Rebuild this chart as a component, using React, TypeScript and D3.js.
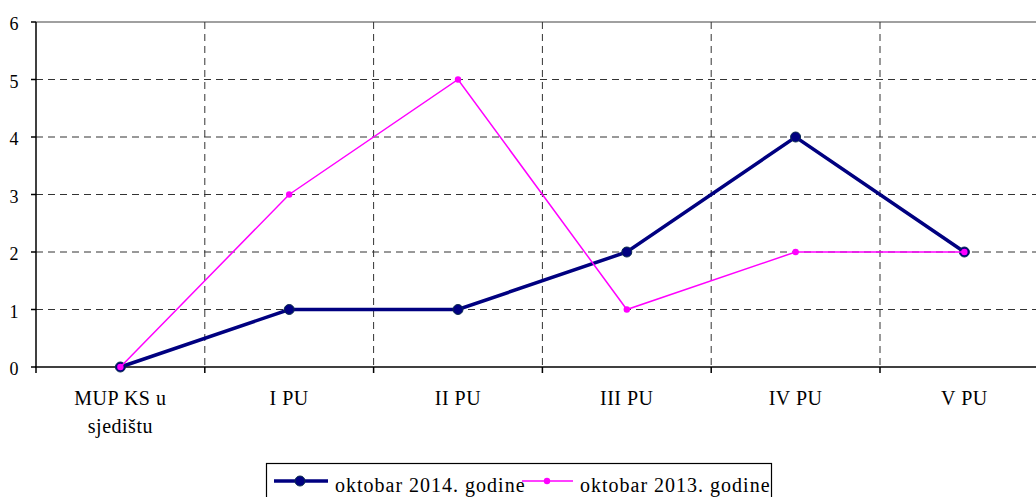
import * as d3 from "d3";

const categories = ["MUP KS u|sjedištu", "I PU", "II PU", "III PU", "IV PU", "V PU"];
const oct2014 = [0, 1, 1, 2, 4, 2];
const oct2013 = [0, 3, 5, 1, 2, 2];
const yTicks = [0, 1, 2, 3, 4, 5, 6];
const seriesNames = ["oktobar 2014. godine", "oktobar 2013. godine"];

const W = 1036;
const H = 497;
const left = 36;
const top = 22;
const bottom = 367;
const band = 168.8;
const FONT = "Liberation Serif";

export default function App() {
  const x = d3
    .scaleBand<string>()
    .domain(categories)
    .range([left, left + band * categories.length]);
  const y = d3.scaleLinear().domain([0, 6]).range([bottom, top]);
  const cx = (c: string) => (x(c) ?? 0) + x.bandwidth() / 2;

  const line = d3
    .line<number>()
    .x((_, i) => cx(categories[i]))
    .y((d) => y(d));

  return (
    <svg
      width={W}
      height={H}
      style={{ position: "absolute", left: 0, top: 0, background: "#fff" }}
    >
      {/* horizontal grid */}
      {yTicks.slice(1).map((t) => (
        <line
          key={"h" + t}
          x1={left}
          x2={W}
          y1={y(t)}
          y2={y(t)}
          stroke={t === 6 ? "#808080" : "#333"}
          strokeWidth={t === 6 ? 1.5 : 1}
          strokeDasharray={t === 6 ? undefined : "7,5"}
        />
      ))}
      {/* vertical grid */}
      {categories.slice(1).map((c) => (
        <line
          key={"v" + c}
          x1={x(c)}
          x2={x(c)}
          y1={top}
          y2={bottom}
          stroke="#333"
          strokeWidth={1}
          strokeDasharray="7,5"
        />
      ))}
      {/* axes */}
      <line x1={left} x2={left} y1={top} y2={bottom} stroke="#000" strokeWidth={1.5} />
      <line x1={left - 1} x2={W} y1={bottom} y2={bottom} stroke="#000" strokeWidth={1.5} />
      {yTicks.map((t) => (
        <g key={"yt" + t}>
          <line x1={left - 5} x2={left} y1={y(t)} y2={y(t)} stroke="#000" strokeWidth={1.5} />
          <text x={18.5} y={y(t) + 8} fontFamily={FONT} fontSize={18} textAnchor="end">
            {t}
          </text>
        </g>
      ))}
      {categories.map((c) => (
        <g key={"xt" + c}>
          <line
            x1={x(c)}
            x2={x(c)}
            y1={bottom}
            y2={bottom + 6}
            stroke="#000"
            strokeWidth={1.5}
          />
          {c.split("|").map((part, j) => (
            <text
              key={j}
              x={cx(c)}
              y={405 + j * 28}
              fontFamily={FONT}
              fontSize={20}
              letterSpacing={0.5}
              textAnchor="middle"
            >
              {part}
            </text>
          ))}
        </g>
      ))}
      {/* series */}
      <path d={line(oct2014) ?? ""} fill="none" stroke="#000080" strokeWidth={3.5} />
      {oct2014.map((v, i) => (
        <circle
          key={"a" + i}
          cx={cx(categories[i])}
          cy={y(v)}
          r={5}
          fill="#000080"
          stroke="#0a2a50"
          strokeWidth={1}
        />
      ))}
      <path d={line(oct2013) ?? ""} fill="none" stroke="#ff00ff" strokeWidth={1.5} />
      {oct2013.map((v, i) => (
        <circle key={"b" + i} cx={cx(categories[i])} cy={y(v)} r={3.2} fill="#ff00ff" />
      ))}
      {/* legend */}
      <rect x={266.5} y={463.5} width={505} height={40} fill="#fff" stroke="#000" strokeWidth={1.2} />
      <line x1={274} x2={328} y1={481} y2={481} stroke="#000080" strokeWidth={3.5} />
      <circle cx={300} cy={481} r={5} fill="#000080" stroke="#0a2a50" />
      <text x={335} y={491.5} fontFamily={FONT} fontSize={20} letterSpacing={1}>
        {seriesNames[0]}
      </text>
      <line x1={522} x2={573} y1={481} y2={481} stroke="#ff00ff" strokeWidth={1.5} />
      <circle cx={547} cy={481} r={3.2} fill="#ff00ff" />
      <text x={580} y={491.5} fontFamily={FONT} fontSize={20} letterSpacing={1}>
        {seriesNames[1]}
      </text>
    </svg>
  );
}
